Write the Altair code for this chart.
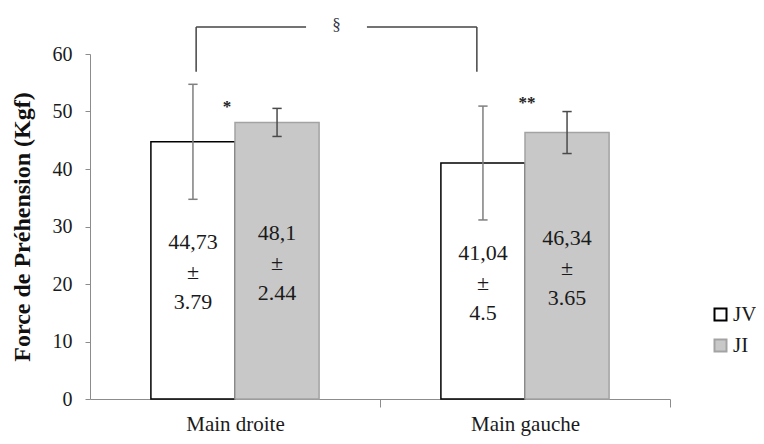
import altair as alt
import pandas as pd

# ---- data ----
categories = ["Main droite", "Main gauche"]
series = ["JV", "JI"]
jv_mean = [44.73, 41.04]
ji_mean = [48.1, 46.34]
jv_sd = [10.0, 9.9]
ji_sd = [2.44, 3.65]
jv_text = ["44,73\n±\n3.79", "41,04\n±\n4.5"]
ji_text = ["48,1\n±\n2.44", "46,34\n±\n3.65"]
star_text = ["*", "**"]
star_x = [0.472, 1.507]
star_y = [50.7, 51.4]
bracket_text = "§"
bracket_x = [0.366, 1.334]      # legs of the bracket (category units)
bracket_gap = [0.745, 0.955]    # gap around the § sign
bracket_y = [56.9, 64.7]

# ---- layout constants ----
BAR_W = 0.29
CAP = 0.016
FONT = "Liberation Serif, Times New Roman, serif"

rows = []
for i, cat in enumerate(categories):
    c = i + 0.5
    for s, mean, sd, txt in (("JV", jv_mean[i], jv_sd[i], jv_text[i]),
                             ("JI", ji_mean[i], ji_sd[i], ji_text[i])):
        x0 = c - BAR_W if s == "JV" else c
        x1 = x0 + BAR_W
        xm = (x0 + x1) / 2
        rows.append(dict(cat=cat, series=s, mean=mean, zero=0, lo=mean - sd,
                         hi=mean + sd, mid=mean / 2, label=txt, x0=x0, x1=x1,
                         xm=xm, c0=xm - CAP, c1=xm + CAP))
df = pd.DataFrame(rows)

stars = pd.DataFrame({"x": star_x, "y": star_y, "t": star_text})
brk = pd.DataFrame({
    "x": [bracket_x[0], bracket_x[0], bracket_gap[1], bracket_x[1]],
    "x2": [bracket_x[0], bracket_gap[0], bracket_x[1], bracket_x[1]],
    "y": [bracket_y[0], bracket_y[1], bracket_y[1], bracket_y[0]],
    "y2": [bracket_y[1], bracket_y[1], bracket_y[1], bracket_y[1]],
})
sect = pd.DataFrame({"x": [(bracket_gap[0] + bracket_gap[1]) / 2],
                     "y": [bracket_y[1] + 0.3], "t": [bracket_text]})

xscale = alt.Scale(domain=[0, 2], nice=False, zero=False)
yscale = alt.Scale(domain=[0, 60], nice=False)

x_axis = alt.Axis(
    values=[0.5, 1, 1.5, 2],
    labelExpr="datum.value == 0.5 ? 'Main droite' : datum.value == 1.5 ? 'Main gauche' : ''",
    tickOpacity={"condition": {"test": "datum.value == 0.5 || datum.value == 1.5", "value": 0}, "value": 1},
    tickSize=8, tickColor="#8c8c8c", domainColor="#8c8c8c", domainWidth=1,
    labelFont=FONT, labelFontSize=21, labelColor="#1a1a1a", labelPadding=6,
    labelOverlap=False, labelFlush=False, grid=False, title=None,
)
y_axis = alt.Axis(
    values=[0, 10, 20, 30, 40, 50, 60], tickSize=5, tickColor="#8c8c8c",
    domainColor="#8c8c8c", labelFont=FONT, labelFontSize=20, labelColor="#1a1a1a",
    labelPadding=13, grid=False, title="Force de Préhension (Kgf)",
    titleFont=FONT, titleFontSize=24, titleFontWeight="bold", titleColor="#111111",
    titleX=-68, titleBaseline="middle",
)

leg = alt.Legend(title=None, orient="none", legendX=620, legendY=250,
                 symbolType="square", symbolSize=144, symbolStrokeWidth=2,
                 labelFont=FONT, labelFontSize=21, labelColor="#1a1a1a",
                 labelOffset=2, rowPadding=9, padding=0)


def X(field):
    return alt.X(field, scale=xscale, axis=x_axis)


def Y(field):
    return alt.Y(field, scale=yscale, axis=y_axis)


base = alt.Chart(df)

bars = base.mark_bar(strokeWidth=1.5).encode(
    x=X("x0:Q"),
    x2="x1:Q",
    y=Y("mean:Q"),
    y2="zero:Q",
    fill=alt.Fill("series:N", scale=alt.Scale(domain=series, range=["#ffffff", "#c8c8c8"]), legend=leg),
    stroke=alt.Stroke("series:N", scale=alt.Scale(domain=series, range=["#000000", "#a3a3a3"]), legend=leg),
)

err_color = alt.condition("datum.series == 'JV'", alt.value("#7f7f7f"), alt.value("#4a4a4a"))

err = base.mark_rule(strokeWidth=1.5).encode(
    x=X("xm:Q"),
    y=Y("lo:Q"),
    y2="hi:Q",
    color=err_color,
)
caps = base.transform_fold(["lo", "hi"], as_=["end", "yv"]).mark_rule(strokeWidth=1.5).encode(
    x=X("c0:Q"),
    x2="c1:Q",
    y=Y("yv:Q"),
    color=err_color,
)
labels = base.mark_text(font=FONT, fontSize=22, lineBreak="\n", lineHeight=30,
                        baseline="middle", align="center", color="#1a1a1a", dy=-28).encode(
    x=X("xm:Q"),
    y=Y("mid:Q"),
    text="label:N",
)
star_layer = alt.Chart(stars).mark_text(font=FONT, fontSize=17, fontWeight="bold",
                                        baseline="middle", color="#222222").encode(
    x=X("x:Q"),
    y=Y("y:Q"),
    text="t:N",
)
bracket = alt.Chart(brk).mark_rule(strokeWidth=1.5, color="#444444").encode(
    x=X("x:Q"),
    x2="x2:Q",
    y=Y("y:Q"),
    y2="y2:Q",
)
sect_layer = alt.Chart(sect).mark_text(font=FONT, fontSize=17, baseline="middle",
                                       color="#333344").encode(
    x=X("x:Q"),
    y=Y("y:Q"),
    text="t:N",
)

chart = alt.layer(bars, err, caps, labels, star_layer, bracket, sect_layer).properties(
    width=580, height=345,
    autosize=alt.AutoSizeParams(type="none"),
    padding={"left": 82, "top": 46, "right": 86, "bottom": 37},
    background="white",
).configure_view(stroke=None)

chart.save("out.html", embed_options={"renderer": "svg", "actions": False})
